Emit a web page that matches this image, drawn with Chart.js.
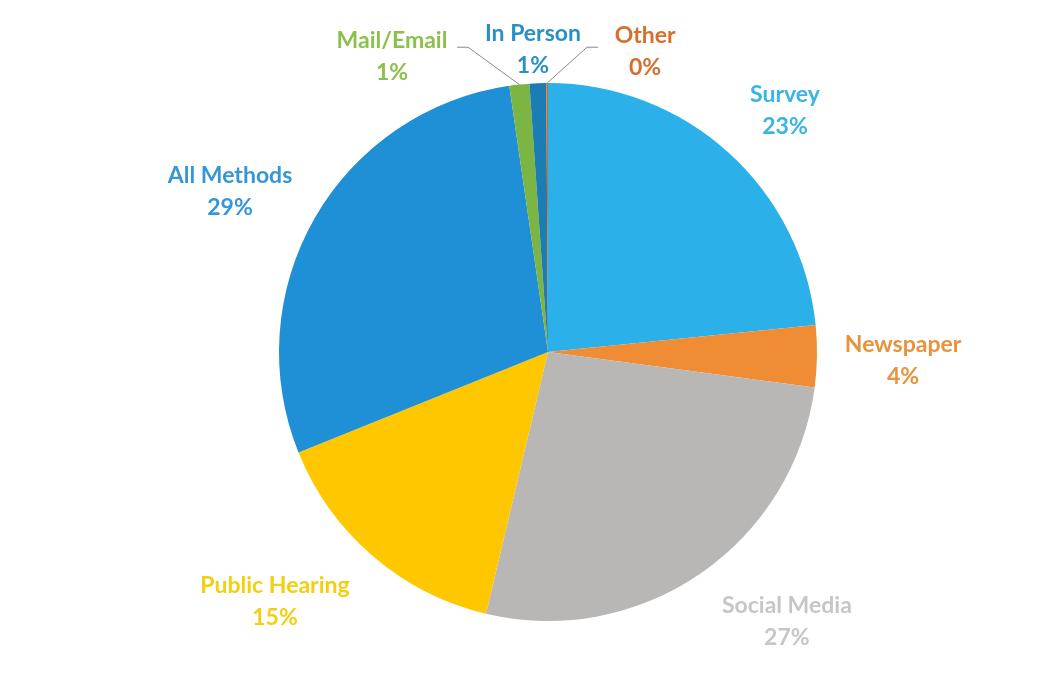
<!DOCTYPE html>
<html>
<head>
<meta charset="utf-8">
<script src="https://cdn.jsdelivr.net/npm/chart.js@4.4.0/dist/chart.umd.min.js"></script>
<style>
  body { margin: 0; background: #fff; }
  #wrap { width: 1056px; height: 688px; }
</style>
</head>
<body>
<div id="wrap"><canvas id="myChart" width="1056" height="688"></canvas></div>
<script>
// shares (percent of responses)
const categories = ["Survey", "Newspaper", "Social Media", "Public Hearing", "All Methods", "Mail/Email", "In Person", "Other"];
const shares = [23.4, 3.7, 26.6, 15.2, 28.8, 1.2, 1.0, 0.1];
const percentLabels = ["23%", "4%", "27%", "15%", "29%", "1%", "1%", "0%"];

const sliceColors = ["#2cb0ea", "#f08c34", "#b9b6b6", "#ffc700", "#1f8fd6", "#7cb544", "#1a7db3", "#d86a26"];
const textColors = ["#3ab3e6", "#e8923a", "#c6c6c6", "#f2cf10", "#3597d6", "#8cc04c", "#2a8fc6", "#d4702c"];

// where each label sits, relative to the pie centre in units of radius
const labelPos = [
    [0.881, -0.896], [1.320, 0.033], [0.888, 1.004], [-1.015, 0.926],
    [-1.182, -0.595], [-0.580, -1.100], [-0.056, -1.123], [0.361, -1.115]
];
// leader lines: [index, start x, start y, elbow x] relative to centre / radius
const leaders = [
    [5, -0.338, -1.133, -0.297],
    [7, 0.186, -1.133, 0.145]
];

const labelPlugin = {
    id: "sliceLabels",
    afterDraw(chart) {
        const ctx = chart.ctx;
        const arcs = chart.getDatasetMeta(0).data;
        const cx = arcs[0].x, cy = arcs[0].y, r = arcs[0].outerRadius;

        ctx.save();
        ctx.strokeStyle = "#8a8a8a";
        ctx.lineWidth = 1;
        leaders.forEach(([i, sx, sy, ex]) => {
            const a = arcs[i];
            const mid = (a.startAngle + a.endAngle) / 2;
            ctx.beginPath();
            ctx.moveTo(cx + sx * r, cy + sy * r);
            ctx.lineTo(cx + ex * r, cy + sy * r);
            ctx.lineTo(cx + Math.cos(mid) * r, cy + Math.sin(mid) * r);
            ctx.stroke();
        });

        ctx.font = "bold 23px Lato, 'Open Sans', sans-serif";
        ctx.textAlign = "center";
        ctx.textBaseline = "middle";
        categories.forEach((name, i) => {
            const x = cx + labelPos[i][0] * r;
            const y = cy + labelPos[i][1] * r;
            ctx.fillStyle = textColors[i];
            ctx.fillText(name, x, y - 16);
            ctx.fillText(percentLabels[i], x, y + 16);
        });
        ctx.restore();
    }
};

new Chart(document.getElementById("myChart"), {
    type: "pie",
    data: {
        labels: categories,
        datasets: [{
            data: shares,
            backgroundColor: sliceColors,
            borderWidth: 0
        }]
    },
    options: {
        responsive: false,
        animation: false,
        layout: { padding: { left: 279, right: 239, top: 83, bottom: 67 } },
        plugins: {
            legend: { display: false },
            tooltip: { enabled: false }
        }
    },
    plugins: [labelPlugin]
});
</script>
</body>
</html>
